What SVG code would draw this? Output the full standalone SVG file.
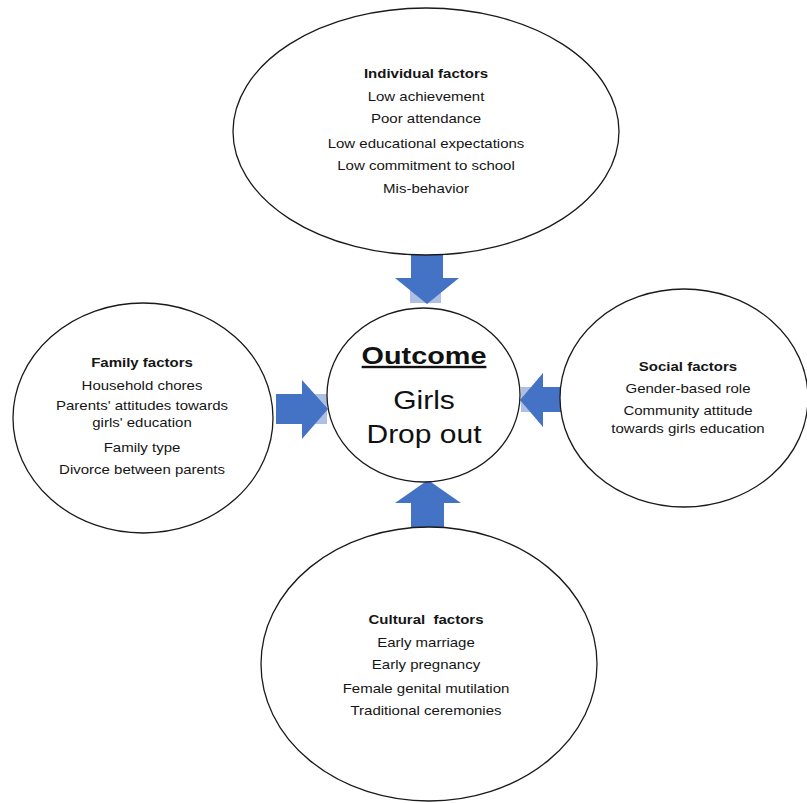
<svg xmlns="http://www.w3.org/2000/svg" width="807" height="803" viewBox="0 0 807 803">
<style>
.node ellipse{fill:#fff;stroke:#1a1a1a;stroke-width:1.3}
.t{font-family:"Liberation Sans",Arial,sans-serif;font-size:12.5px;fill:#151515;text-anchor:middle}
.b{font-weight:bold}
.arrow{fill:#4472c4}
.ghost{fill:#aebfe4}
.big{font-family:"Liberation Sans",Arial,sans-serif;fill:#111;text-anchor:middle}
</style>
<rect width="807" height="803" fill="#fff"/>
<g id="connectors">
  <rect class="ghost" x="410" y="278" width="31" height="25"/>
  <polygon class="arrow" points="411,250 443,250 443,278 459,278 427,304 395,278 411,278"/>
  <rect class="ghost" x="302" y="394" width="25" height="30"/>
  <polygon class="arrow" points="276,394 302,394 302,380 328,409 302,439 302,424 276,424"/>
  <rect class="ghost" x="521" y="387" width="22" height="25"/>
  <polygon class="arrow" points="567,387 543,387 543,373 520,400 543,427 543,412 567,412"/>
  <polygon class="arrow" points="411,530 444,530 444,503 461,503 428,480 395,503 411,503"/>
</g>
<g id="individual" class="node">
  <ellipse cx="426" cy="131.5" rx="193" ry="123.5"/>
  <g transform="translate(426 0) scale(1.2 1)">
    <text class="t b" x="0" y="78">Individual factors</text>
    <text class="t" x="0" y="101">Low achievement</text>
    <text class="t" x="0" y="123">Poor attendance</text>
    <text class="t" x="0" y="148">Low educational expectations</text>
    <text class="t" x="0" y="170">Low commitment to school</text>
    <text class="t" x="0" y="193">Mis-behavior</text>
  </g>
</g>
<g id="family" class="node">
  <ellipse cx="143" cy="418" rx="130" ry="115"/>
  <g transform="translate(142 0) scale(1.2 1)">
    <text class="t b" x="0" y="367">Family factors</text>
    <text class="t" x="0" y="390">Household chores</text>
    <text class="t" x="0" y="410">Parents' attitudes towards</text>
    <text class="t" x="0" y="427">girls' education</text>
    <text class="t" x="0" y="452">Family type</text>
    <text class="t" x="0" y="474">Divorce between parents</text>
  </g>
</g>
<g id="social" class="node">
  <ellipse cx="684" cy="398" rx="124" ry="109"/>
  <g transform="translate(688 0) scale(1.2 1)">
    <text class="t b" x="0" y="371">Social factors</text>
    <text class="t" x="0" y="393">Gender-based role</text>
    <text class="t" x="0" y="415">Community attitude</text>
    <text class="t" x="0" y="433">towards girls education</text>
  </g>
</g>
<g id="cultural" class="node">
  <ellipse cx="429" cy="664" rx="168" ry="137"/>
  <g transform="translate(426 0) scale(1.2 1)">
    <text class="t b" x="0" y="624" xml:space="preserve">Cultural  factors</text>
    <text class="t" x="0" y="647">Early marriage</text>
    <text class="t" x="0" y="669">Early pregnancy</text>
    <text class="t" x="0" y="693">Female genital mutilation</text>
    <text class="t" x="0" y="715">Traditional ceremonies</text>
  </g>
</g>
<g id="outcome" class="node">
  <ellipse cx="423.5" cy="395" rx="96.5" ry="87"/>
  <g transform="translate(424 0) scale(1.2 1)">
    <text class="big" x="0" y="364" font-size="24" font-weight="bold" text-decoration="underline">Outcome</text>
    <text class="big" x="0" y="409" font-size="25">Girls</text>
    <text class="big" x="0" y="443" font-size="25">Drop out</text>
  </g>
</g>
</svg>
